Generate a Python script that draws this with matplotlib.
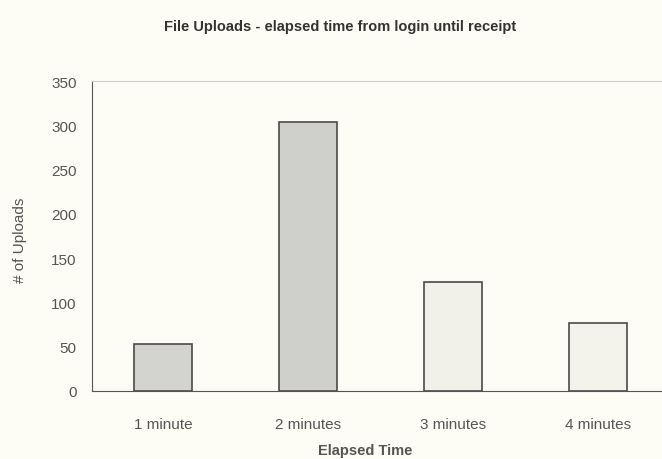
import numpy as np
import matplotlib.pyplot as plt

# data
categories = ['1 minute', '2 minutes', '3 minutes', '4 minutes']
uploads = [53, 304, 123, 77]
bar_colors = ['#d3d3cf', '#cfcfcb', '#f1f1ea', '#f3f3ec']
y_ticks = [0, 50, 100, 150, 200, 250, 300, 350]

plt.rcParams['font.family'] = ['Liberation Sans', 'DejaVu Sans']

fig = plt.figure(figsize=(6.62, 4.6), dpi=100)
fig.patch.set_facecolor('#fdfdf6')
ax = fig.add_axes([92 / 662, 68 / 460, 1 - 92 / 662, 310 / 460])
ax.set_facecolor('#fdfdf6')

x = np.arange(len(categories))
ax.bar(x, uploads, width=0.4, color=bar_colors, edgecolor='#4a4a4a', linewidth=1.2)

ax.set_xlim(-0.49, 3.44)
ax.set_ylim(0, 350)
ax.set_yticks(y_ticks)
ax.set_xticks(x)
ax.set_xticklabels(categories)

ax.tick_params(axis='both', length=0, labelsize=11, colors='#555555')
ax.tick_params(axis='x', pad=19)
ax.tick_params(axis='y', pad=11)

ax.spines['left'].set_color('#555555')
ax.spines['bottom'].set_color('#555555')
ax.spines['top'].set_color('#cfcfcf')
ax.spines['right'].set_visible(False)

fig.text(340 / 662, 1 - 27 / 460, 'File Uploads - elapsed time from login until receipt',
         ha='center', va='center', fontsize=10.5, fontweight='bold', color='#333333')
fig.text(365 / 662, 1 - 451 / 460, 'Elapsed Time', ha='center', va='center',
         fontsize=10.5, fontweight='bold', color='#555555')
fig.text(20 / 662, 1 - 240 / 460, '# of Uploads', ha='center', va='center',
         rotation=90, fontsize=11, color='#555555')

fig.savefig('out.png', dpi=100, facecolor=fig.get_facecolor())
